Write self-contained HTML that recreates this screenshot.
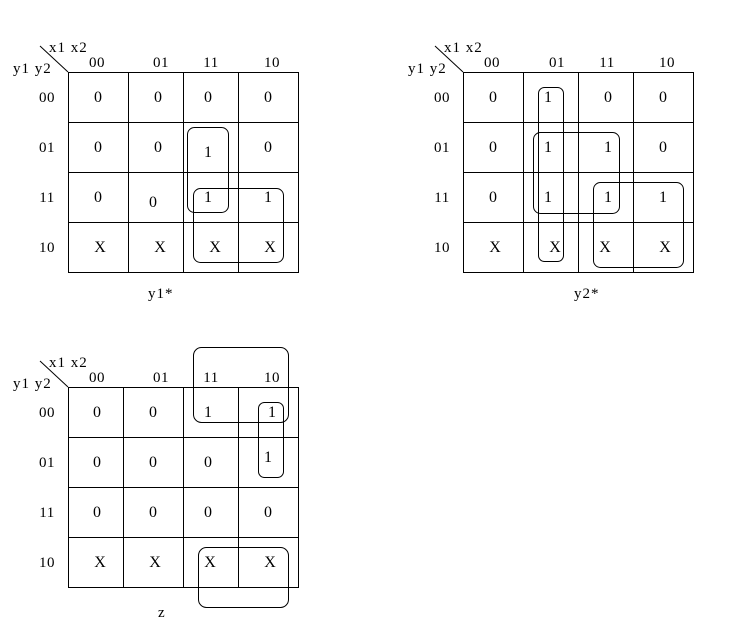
<!DOCTYPE html>
<html><head><meta charset="utf-8"><style>
html,body{margin:0;padding:0;background:#fff;}
svg{display:block;}
text{font-family:"Liberation Serif",serif;fill:#000;}
.v{font-size:16px;text-anchor:middle;}
.h{font-size:15px;text-anchor:middle;letter-spacing:0.5px;}
.l{font-size:15px;letter-spacing:1px;}
</style></head><body>
<svg width="744" height="631" viewBox="0 0 744 631" xmlns="http://www.w3.org/2000/svg">
<g stroke="#000" stroke-width="1" fill="none">
<rect x="68.5" y="72.5" width="230" height="200"/>
<line x1="128.5" y1="72" x2="128.5" y2="272"/><line x1="183.5" y1="72" x2="183.5" y2="272"/><line x1="238.5" y1="72" x2="238.5" y2="272"/>
<line x1="68" y1="122.5" x2="298" y2="122.5"/><line x1="68" y1="172.5" x2="298" y2="172.5"/><line x1="68" y1="222.5" x2="298" y2="222.5"/>
<line x1="40" y1="46" x2="68" y2="72"/>
<rect x="187.5" y="127.5" width="41" height="85" rx="7"/>
<rect x="193.5" y="188.5" width="90" height="74" rx="7"/>
<rect x="463.5" y="72.5" width="230" height="200"/>
<line x1="523.5" y1="72" x2="523.5" y2="272"/><line x1="578.5" y1="72" x2="578.5" y2="272"/><line x1="633.5" y1="72" x2="633.5" y2="272"/>
<line x1="463" y1="122.5" x2="693" y2="122.5"/><line x1="463" y1="172.5" x2="693" y2="172.5"/><line x1="463" y1="222.5" x2="693" y2="222.5"/>
<line x1="435" y1="46" x2="463" y2="72"/>
<rect x="538.5" y="87.5" width="25" height="174" rx="6"/>
<rect x="533.5" y="132.5" width="86" height="81" rx="7"/>
<rect x="593.5" y="182.5" width="90" height="85" rx="7"/>
<rect x="68.5" y="387.5" width="230" height="200"/>
<line x1="123.5" y1="387" x2="123.5" y2="587"/><line x1="183.5" y1="387" x2="183.5" y2="587"/><line x1="238.5" y1="387" x2="238.5" y2="587"/>
<line x1="68" y1="437.5" x2="298" y2="437.5"/><line x1="68" y1="487.5" x2="298" y2="487.5"/><line x1="68" y1="537.5" x2="298" y2="537.5"/>
<line x1="40" y1="361" x2="68" y2="387"/>
<rect x="193.5" y="347.5" width="95" height="75" rx="8"/>
<rect x="258.5" y="402.5" width="25" height="75" rx="6"/>
<rect x="198.5" y="547.5" width="90" height="60" rx="8"/>
</g>
<text class="l" x="49" y="52">x1 x2</text>
<text class="l" x="13" y="73">y1 y2</text>
<text class="h" x="97" y="67">00</text><text class="h" x="161" y="67">01</text><text class="h" x="211" y="67">11</text><text class="h" x="272" y="67">10</text>
<text class="h" x="47" y="102">00</text><text class="h" x="47" y="152">01</text><text class="h" x="47" y="202">11</text><text class="h" x="47" y="252">10</text>
<text class="v" x="98" y="102">0</text><text class="v" x="158" y="102">0</text><text class="v" x="208" y="102">0</text><text class="v" x="268" y="102">0</text>
<text class="v" x="98" y="152">0</text><text class="v" x="158" y="152">0</text><text class="v" x="208" y="157">1</text><text class="v" x="268" y="152">0</text>
<text class="v" x="98" y="202">0</text><text class="v" x="153" y="207">0</text><text class="v" x="208" y="202">1</text><text class="v" x="268" y="202">1</text>
<text class="v" x="100" y="252">X</text><text class="v" x="160" y="252">X</text><text class="v" x="215" y="252">X</text><text class="v" x="270" y="252">X</text>
<text class="l" x="148" y="298">y1*</text>
<text class="l" x="444" y="52">x1 x2</text>
<text class="l" x="408" y="73">y1 y2</text>
<text class="h" x="492" y="67">00</text><text class="h" x="557" y="67">01</text><text class="h" x="607" y="67">11</text><text class="h" x="667" y="67">10</text>
<text class="h" x="442" y="102">00</text><text class="h" x="442" y="152">01</text><text class="h" x="442" y="202">11</text><text class="h" x="442" y="252">10</text>
<text class="v" x="493" y="102">0</text><text class="v" x="548" y="102">1</text><text class="v" x="608" y="102">0</text><text class="v" x="663" y="102">0</text>
<text class="v" x="493" y="152">0</text><text class="v" x="548" y="152">1</text><text class="v" x="608" y="152">1</text><text class="v" x="663" y="152">0</text>
<text class="v" x="493" y="202">0</text><text class="v" x="548" y="202">1</text><text class="v" x="608" y="202">1</text><text class="v" x="663" y="202">1</text>
<text class="v" x="495" y="252">X</text><text class="v" x="555" y="252">X</text><text class="v" x="605" y="252">X</text><text class="v" x="665" y="252">X</text>
<text class="l" x="574" y="298">y2*</text>
<text class="l" x="49" y="367">x1 x2</text>
<text class="l" x="13" y="388">y1 y2</text>
<text class="h" x="97" y="382">00</text><text class="h" x="161" y="382">01</text><text class="h" x="211" y="382">11</text><text class="h" x="272" y="382">10</text>
<text class="h" x="47" y="417">00</text><text class="h" x="47" y="467">01</text><text class="h" x="47" y="517">11</text><text class="h" x="47" y="567">10</text>
<text class="v" x="97" y="417">0</text><text class="v" x="153" y="417">0</text><text class="v" x="208" y="417">1</text><text class="v" x="272" y="417">1</text>
<text class="v" x="97" y="467">0</text><text class="v" x="153" y="467">0</text><text class="v" x="208" y="467">0</text><text class="v" x="268" y="462">1</text>
<text class="v" x="97" y="517">0</text><text class="v" x="153" y="517">0</text><text class="v" x="208" y="517">0</text><text class="v" x="268" y="517">0</text>
<text class="v" x="100" y="567">X</text><text class="v" x="155" y="567">X</text><text class="v" x="210" y="567">X</text><text class="v" x="270" y="567">X</text>
<text class="l" x="158" y="617">z</text>
</svg>
</body></html>
